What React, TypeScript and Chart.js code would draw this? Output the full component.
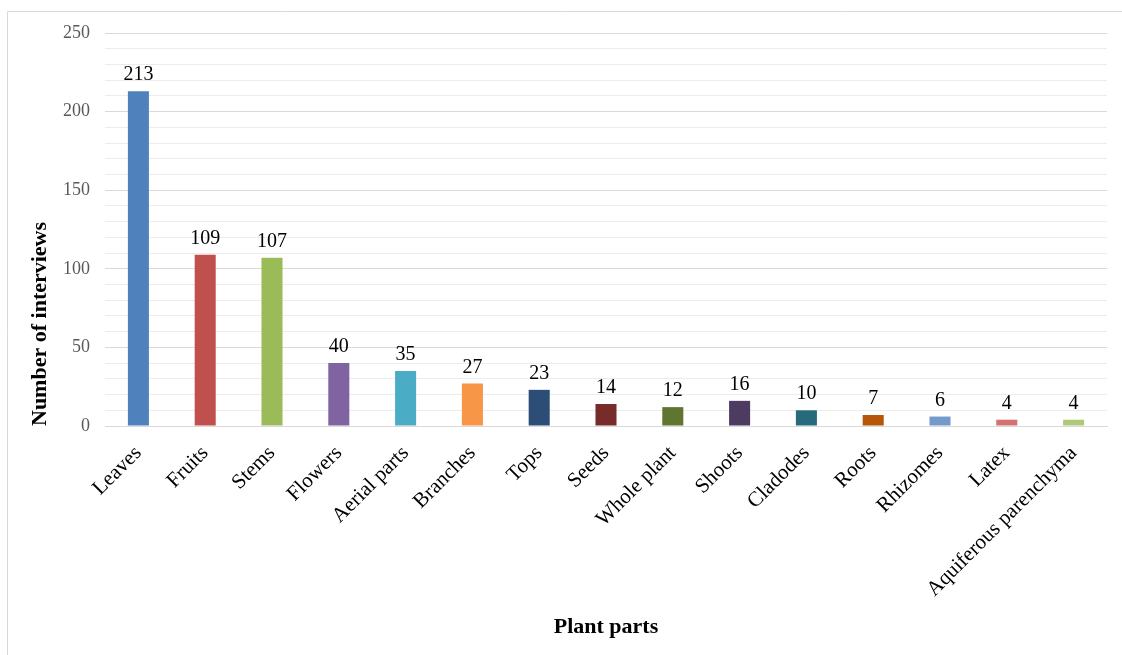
import React, { useEffect, useRef } from "react";
import { Chart, registerables } from "chart.js";

Chart.register(...registerables);

const categories = [
  "Leaves", "Fruits", "Stems", "Flowers", "Aerial parts", "Branches", "Tops", "Seeds",
  "Whole plant", "Shoots", "Cladodes", "Roots", "Rhizomes", "Latex", "Aquiferous parenchyma",
];
const interviews = [213, 109, 107, 40, 35, 27, 23, 14, 12, 16, 10, 7, 6, 4, 4];
const barColors = [
  "#4F81BD", "#C0504D", "#9BBB59", "#8064A2", "#4BACC6", "#F79646", "#2C4D75", "#772C2A",
  "#5F7530", "#4D3B62", "#276A7C", "#B65708", "#729ACA", "#D3726F", "#AFC97A",
];
const yMin = 0;
const yMax = 250;
const yMinorStep = 10;
const yMajorStep = 50;
const xTitle = "Plant parts";
const yTitle = "Number of interviews";

const FONT = "'Liberation Serif', 'Times New Roman', serif";

const frameAndLabels = {
  id: "frameAndLabels",
  beforeDraw(chart: any) {
    const ctx = chart.ctx;
    ctx.save();
    ctx.fillStyle = "#ffffff";
    ctx.fillRect(0, 0, chart.width, chart.height);
    ctx.strokeStyle = "#d9d9d9";
    ctx.lineWidth = 1;
    ctx.beginPath();
    ctx.moveTo(7.5, chart.height);
    ctx.lineTo(7.5, 11.5);
    ctx.lineTo(chart.width, 11.5);
    ctx.stroke();
    ctx.restore();
  },
  afterDatasetsDraw(chart: any) {
    const ctx = chart.ctx;
    const meta = chart.getDatasetMeta(0);
    const data = chart.data.datasets[0].data;
    ctx.save();
    ctx.font = `20px ${FONT}`;
    ctx.fillStyle = "#000000";
    ctx.textAlign = "center";
    ctx.textBaseline = "alphabetic";
    meta.data.forEach((bar: any, i: number) => {
      ctx.fillText(String(data[i]), bar.x, bar.y - 11);
    });
    ctx.restore();
  },
};

export default function App() {
  const canvasRef = useRef<HTMLCanvasElement | null>(null);

  useEffect(() => {
    if (!canvasRef.current) return;
    const chart = new Chart(canvasRef.current, {
      type: "bar",
      data: {
        labels: categories,
        datasets: [
          {
            data: interviews,
            backgroundColor: barColors,
            borderWidth: 0,
            barPercentage: 0.315,
            categoryPercentage: 1,
          },
        ],
      },
      options: {
        responsive: false,
        animation: false,
        devicePixelRatio: 1,
        layout: { padding: { left: 0, top: 33, right: 15, bottom: 0 } },
        plugins: {
          legend: { display: false },
          tooltip: { enabled: false },
        },
        scales: {
          x: {
            grid: { display: false, drawTicks: false },
            border: { display: true, color: "#d9d9d9" },
            ticks: {
              color: "#000000",
              font: { family: FONT, size: 21 },
              maxRotation: 45,
              minRotation: 45,
              autoSkip: false,
              padding: 15,
            },
            title: {
              display: true,
              text: xTitle,
              color: "#000000",
              font: { family: FONT, size: 22, weight: "bold" },
              padding: { top: 0, bottom: 14 },
            },
            afterFit(scale: any) {
              scale.height = 655 - 426;
            },
          },
          y: {
            min: yMin,
            max: yMax,
            border: { display: false },
            grid: {
              drawTicks: false,
              color: (c: any) =>
                c.tick && c.tick.value % yMajorStep === 0 ? "#d9d9d9" : "#ececec",
              lineWidth: 1,
            },
            ticks: {
              stepSize: yMinorStep,
              autoSkip: false,
              color: "#595959",
              font: { family: FONT, size: 18 },
              padding: 15,
              callback: (v: any) => (Number(v) % yMajorStep === 0 ? String(v) : ""),
            },
            title: {
              display: true,
              text: yTitle,
              align: "start",
              color: "#000000",
              font: { family: FONT, size: 22, weight: "bold" },
              padding: { top: 27, bottom: 0 },
            },
            afterFit(scale: any) {
              scale.width = 105;
            },
          },
        },
      },
      plugins: [frameAndLabels],
    });
    return () => chart.destroy();
  }, []);

  return (
    <div style={{ position: "fixed", left: 0, top: 0, width: 1122, height: 655, background: "#fff" }}>
      <canvas ref={canvasRef} width={1122} height={655} style={{ display: "block" }} />
    </div>
  );
}
